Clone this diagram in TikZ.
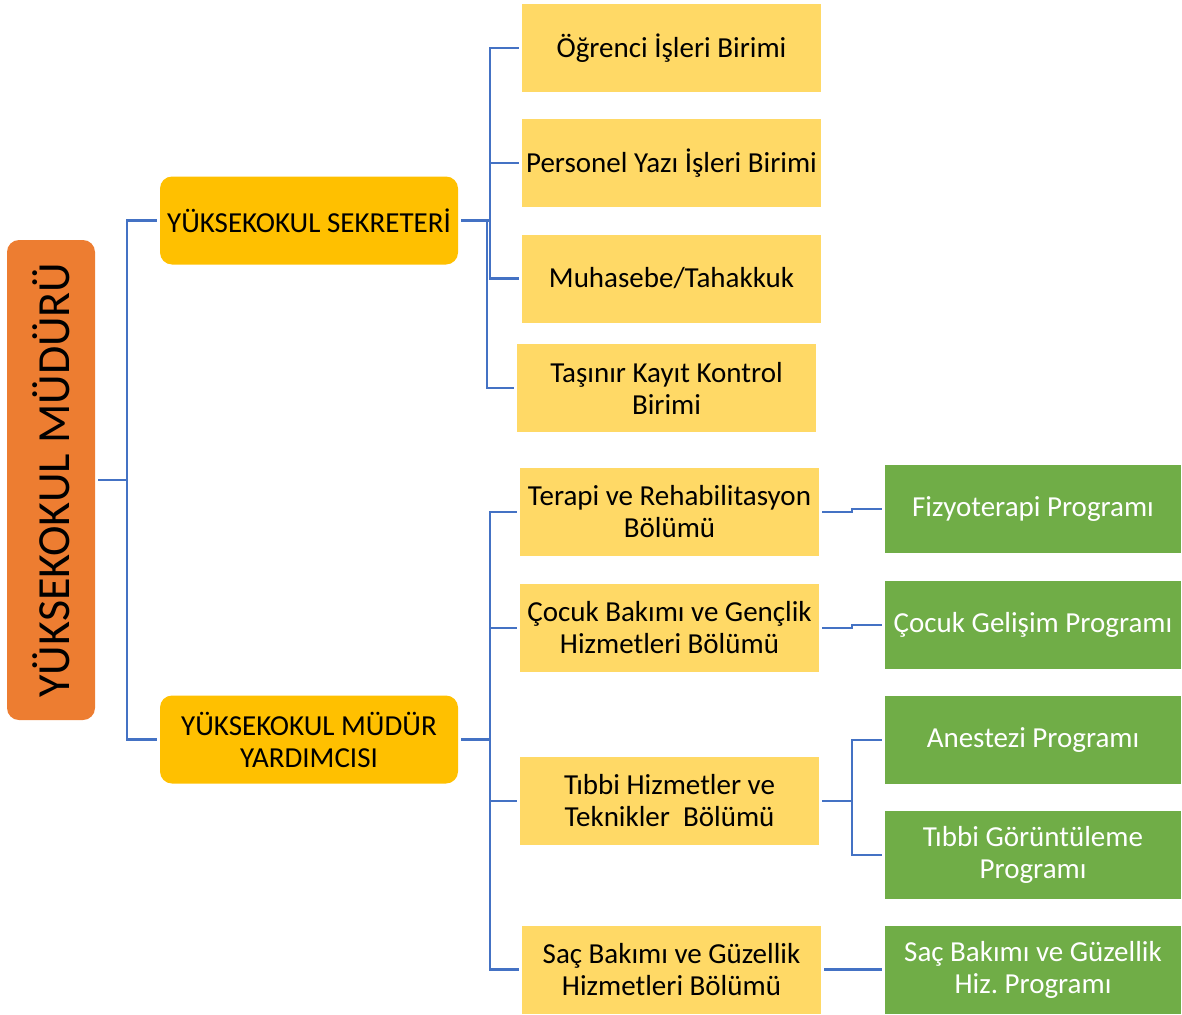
\documentclass[tikz,border=0pt]{standalone}
\usepackage{fontspec}
\setmainfont{Carlito}
\frenchspacing
\definecolor{mudurorange}{HTML}{ED7D31}
\definecolor{birimgold}{HTML}{FFC000}
\definecolor{birimyellow}{HTML}{FFD966}
\definecolor{proggreen}{HTML}{70AD47}
\definecolor{linkblue}{HTML}{4472C4}

\begin{document}
\begin{tikzpicture}[x=1pt,y=-1pt,font=\fontsize{29}{32}\selectfont,
    head/.style={fill=birimgold,rounded corners=12pt,minimum width=298pt,minimum height=88pt,inner sep=0pt,outer sep=3pt,align=center},
    unit/.style={fill=birimyellow,minimum width=299pt,minimum height=88pt,inner sep=0pt,outer sep=3pt,align=center},
    prog/.style={fill=proggreen,text=white,minimum width=296pt,minimum height=88pt,inner sep=0pt,outer sep=3pt,align=center},
    link/.style={draw=linkblue,line width=2.5pt}]
  \useasboundingbox (0,0) rectangle (1182,1014);

  % director
  \node[fill=mudurorange,rounded corners=12pt,minimum width=88pt,minimum height=480pt,inner sep=0pt,outer sep=3pt] (mudur) at (51,480) {};
  \node[rotate=90,font=\fontsize{46}{50}\selectfont] at (mudur.center) {YÜKSEKOKUL MÜDÜRÜ};

  % second level
  \node[head] (sekreter) at (309,220.5) {YÜKSEKOKUL SEKRETERİ};
  \node[head] (yrd) at (309,739.5) {YÜKSEKOKUL MÜDÜR\\YARDIMCISI};

  % units under the secretary
  \node[unit] (ogrenci) at (671.5,48) {Öğrenci İşleri Birimi};
  \node[unit] (personel) at (671.5,163) {Personel Yazı İşleri Birimi};
  \node[unit] (muhasebe) at (671.5,278.5) {Muhasebe/Tahakkuk};
  \node[unit] (tasinir) at (666.5,388) {Taşınır Kayıt Kontrol\\Birimi};

  % departments
  \node[unit] (terapi) at (669.5,512) {Terapi ve Rehabilitasyon\\Bölümü};
  \node[unit] (cocuk) at (669.5,628) {Çocuk Bakımı ve Gençlik\\Hizmetleri Bölümü};
  \node[unit] (tibbi) at (669.5,801) {Tıbbi Hizmetler ve\\Teknikler~~Bölümü};
  \node[unit] (sac) at (671.5,969.5) {Saç Bakımı ve Güzellik\\Hizmetleri Bölümü};

  % programmes
  \node[prog] (fizyo) at (1033,509) {Fizyoterapi Programı};
  \node[prog] (gelisim) at (1033,625) {Çocuk Gelişim Programı};
  \node[prog] (anestezi) at (1033,740) {Anestezi Programı};
  \node[prog] (goruntu) at (1033,855) {Tıbbi Görüntüleme\\Programı};
  \node[prog] (sacprog) at (1033,969.5) {Saç Bakımı ve Güzellik\\Hiz. Programı};

  % connectors
  \draw[link] (mudur.east) -- (127,480) |- (sekreter.west);
  \draw[link] (127,480) |- (yrd.west);
  \foreach \n in {ogrenci,personel,muhasebe}
    \draw[link] (sekreter.east) -- (490,220.5) |- (\n.west);
  \draw[link] (sekreter.east) -- (487,220.5) |- (tasinir.west);
  \foreach \n in {terapi,cocuk,tibbi,sac}
    \draw[link] (yrd.east) -- (490,739.5) |- (\n.west);
  \draw[link] (terapi.east) -- (852,512) -- (852,509) -- (fizyo.west);
  \draw[link] (cocuk.east) -- (852,628) -- (852,625) -- (gelisim.west);
  \draw[link] (tibbi.east) -- (852,801) |- (anestezi.west);
  \draw[link] (852,801) |- (goruntu.west);
  \draw[link] (sac.east) -- (sacprog.west);
\end{tikzpicture}
\end{document}
